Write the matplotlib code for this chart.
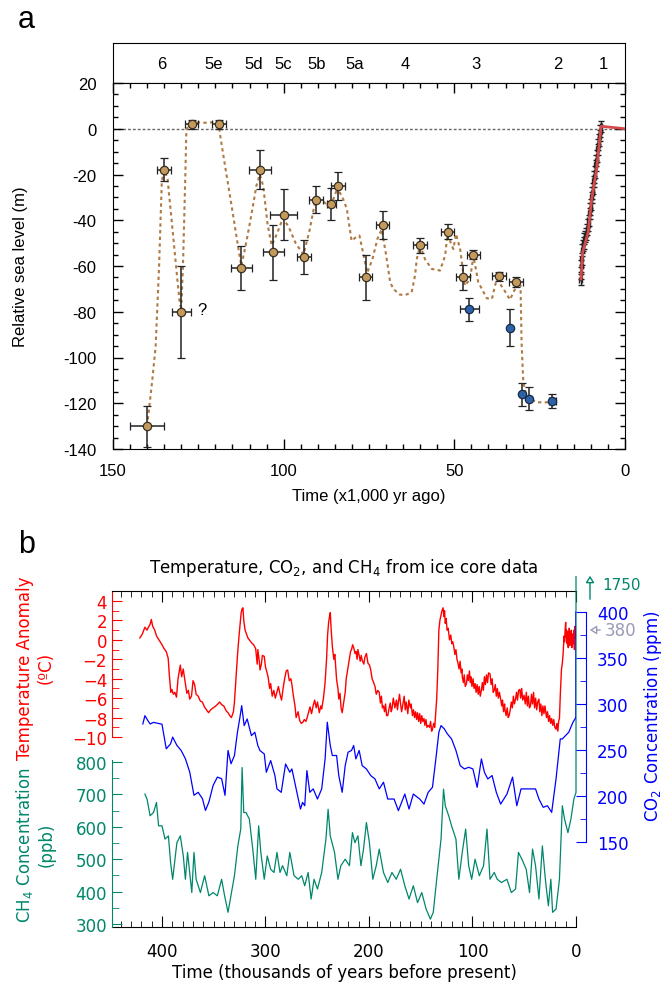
import matplotlib
matplotlib.use('Agg')
import matplotlib.pyplot as plt
from matplotlib.ticker import MultipleLocator, FixedLocator, FuncFormatter
from matplotlib.transforms import Bbox, TransformedBbox

plt.rcParams['axes.unicode_minus'] = False

# ---------------------------------------------------------------------
# Panel a data: marine isotope stages and sea level
stage_names = ['6', '5e', '5d', '5c', '5b', '5a', '4', '3', '2', '1']
stage_ages = [135.8, 120.4, 108.9, 100.0, 90.2, 79.1, 64.5, 43.6, 19.8, 6.4]

terrace_age = [140, 135, 130, 127, 119, 112.4, 107, 103, 100, 94, 90.5, 86, 84, 76, 71,
               60, 52, 47.4, 44.4, 37, 32]
terrace_level = [-130, -18, -80, 2, 2, -61, -18, -54, -37.5, -56, -31, -33, -25, -65, -42,
                 -51, -45, -65, -55, -64.5, -67]
terrace_age_err = [5, 2, 2.8, 1.8, 2, 3, 3.2, 3, 4, 2, 2, 1.2, 2, 2, 2, 2, 2, 2, 2, 2, 2]
terrace_level_err = [9, 5, 20, 2, 2, 9.7, 8.5, 12, 11, 7.5, 6, 7, 6, 10, 6, 3.3, 3.2, 5.4, 2, 2, 2]

shelf_age = [45.6, 33.6, 30.2, 28.2, 21.3]
shelf_level = [-79, -87, -116, -118, -119]
shelf_age_err = [2.8, 0, 0, 0, 1.1]
shelf_level_err = [5, 8, 5, 5, 3]

curve_age = [140, 138.5, 137.5, 136.5, 135.7, 135, 134, 132.5, 131.2, 130.4, 130, 129.5, 128.8,
             128.5, 127, 125, 123, 121, 119, 118.7, 117.2, 116.2, 114.8, 113.3, 112.4, 111,
             109.5, 108, 107, 106, 104.7, 103.5, 102, 100.2, 98.5, 96.5, 94.2, 92.5, 90.8, 89,
             87.5, 86, 84.5, 83.5, 82.5, 81.5, 80.1, 78.5, 77.8, 76.2, 75.5, 74, 72.5, 71.3, 70,
             68.8, 67.9, 66, 64.4, 62.5, 61.5, 61, 60, 58.6, 56.6, 54.2, 52.7, 52, 51, 50.3,
             49.5, 48.3, 46.9, 45.4, 44.4, 43, 40.5, 39, 37.6, 35.6, 33.7, 32.2, 31.6, 30.6,
             30.3, 29.8, 28.8, 25.9, 21.3]
curve_level = [-130, -110, -95, -60, -23, -18, -22, -45, -65, -77, -78, -60, -20,
               0, 2, 2.8, 2.6, 2.8, 2, -2, -16, -25, -38, -52, -60, -50,
               -38, -25, -20, -25, -42, -51, -46, -39, -43, -50, -55, -45, -32, -31,
               -33, -33, -27, -28, -31, -35, -49, -47, -46.7, -58, -63, -57, -48, -44, -55,
               -67, -70, -72.5, -72.7, -71.5, -64, -57, -51, -57, -61.3, -62, -55.5, -46, -50, -52.6,
               -46, -52.6, -68.6, -65.7, -55.5, -67, -74.1, -74.4, -65.7, -70, -74.7, -70, -67, -68.6,
               -93.4, -110.8, -117.4, -119.6, -119.6]

coral_age = [13.0, 12.9, 12.8, 12.7, 12.5, 12.3, 12.1, 11.9, 11.6, 11.3, 11.0, 10.8, 10.6,
             10.4, 10.2, 10.0, 9.8, 9.6, 9.4, 9.2, 9.0, 8.8, 8.6, 8.4, 8.2, 8.0, 7.8, 7.6,
             7.4, 7.2, 7.0]
coral_level = [-66, -63, -60, -57, -53, -51, -50, -48, -47, -46, -44, -42, -40,
               -37, -35, -33, -30, -28, -26, -23, -21, -19, -16, -14, -12, -9, -7, -5,
               -3, -1, 1]

holocene_age = [12.9, 12.4, 10.8, 9.75, 8.3, 7.0, 0.0]
holocene_level = [-65.7, -54, -45.3, -30.7, -17.6, 1.1, 0.0]

# ---------------------------------------------------------------------
# Panel b data: Vostok ice core records
temp_age = [421.4, 419, 416.5, 414.5, 413.6, 411.5, 410.3, 409, 407, 405.3, 403, 400, 398, 395.9,
            394, 393, 391.5, 390.5, 389, 387.6, 386, 384.5, 382.3, 381, 379.5, 377.4, 376, 374.5,
            373.2, 371.5, 370, 368.5, 367, 365, 363, 361, 359, 357, 355, 353, 350.6, 348, 346,
            344.4, 342, 340.3, 338, 336.2, 334.5, 332.9, 331, 330, 328.5, 327, 325.5, 324.7,
            323.5, 322.6, 321.8, 321, 319.7, 318, 317, 315.6, 313.5, 311.5, 309.5, 308, 307.4,
            306, 305.3, 304, 303, 301.2, 300, 299.2, 297.5, 296, 295, 293.5, 292, 290.5, 289,
            287.5, 286, 284.5, 283, 281.5, 280, 278.6, 277, 275.5, 274.5, 273, 271.5, 270.4,
            268.5, 267, 265.5, 264, 262.5, 261, 260, 258.5, 257, 255.5, 254, 252.5, 251, 249.8,
            248, 246.5, 245.7, 244, 242.5, 241, 240, 239, 238, 237.4, 236.5, 235.4, 234, 233,
            231.3, 230, 229.2, 228, 227, 225.9, 224.5, 223, 222, 220.5, 219, 217.8, 216.9,
            215.8, 214.8, 213.5, 212.5, 211.5, 210.7, 209.5, 208.5, 207.5, 206.6, 205, 204,
            202.5, 201, 199.5, 198.3, 197, 195.5, 194.2, 193, 191.5, 190.1, 189, 188, 187, 186,
            185, 184, 183, 181.9, 180.5, 179.5, 178.5, 177.8, 176.5, 175, 173.5, 172.5, 171.6,
            170.5, 169.5, 168.5, 167.5, 166, 165, 164, 162.5, 161.5, 160, 159.3, 158, 157, 156,
            155, 154, 153.1, 152, 151, 150, 149, 148, 146.9, 146, 145, 144, 142.8, 141.5, 140.5,
            139.5, 138.7, 137.5, 136.5, 135.5, 134.6, 133.5, 132.5, 131.5, 130.5, 129.5, 128.4,
            127.6, 127, 126.3, 125.5, 124.5, 123.5, 122.2, 121, 120, 119, 118.1, 117, 116, 115,
            114, 113, 112, 111, 110, 109.9, 108.8, 108, 107, 105.8, 105, 104, 103, 102, 101.6,
            100.5, 99.5, 98.5, 97.5, 96.5, 95.5, 94.5, 93.5, 92.5, 91.4, 90.5, 89.5, 88.5, 87.5,
            86.5, 85.5, 84.5, 83.1, 82, 81, 80, 79, 78, 77, 76, 75, 74, 72.8, 71.8, 71, 70, 69,
            68.7, 67.5, 66.5, 65.5, 64.6, 63.5, 62.5, 61.5, 60.5, 59.5, 58.4, 57.5, 56.5, 55.5,
            54.3, 53.5, 52.5, 51.5, 50.2, 49, 48, 47, 46, 45, 44, 43, 42, 41, 40, 39, 38, 37,
            35.8, 35, 34, 33, 32, 31, 30, 29.6, 28.5, 27.5, 26.5, 25.5, 24.5, 23.5, 22.5, 21.5,
            20.5, 19.3, 18.5, 17.5, 16.8, 16, 15.5, 15, 14.5, 14, 13.2, 12.5, 12, 11.5, 11, 10.5,
            10, 9.5, 9.1, 8.5, 8, 7.5, 7, 6.5, 6, 5.5, 5, 4.5, 4, 3.5, 2.9, 2.5, 2, 1.5, 1, 0.5, 0]
temp_anom = [0.2, 0.6, 1.3, 1.0, 1.2, 1.6, 2.1, 1.4, 1.0, 0.4, 0.0, -0.5, -0.9, -1.2,
             -1.9, -3.5, -5.4, -5.1, -5.6, -5.4, -5.9, -4.0, -2.6, -3.8, -3.0, -4.5, -5.5, -5.2,
             -6.1, -5.8, -4.2, -4.6, -5.6, -5.8, -6.3, -6.4, -6.9, -7.2, -7.5, -7.2, -7.0, -6.8, -6.6,
             -6.4, -6.7, -6.8, -7.3, -7.5, -7.8, -8.0, -7.4, -6.4, -4.0, -1.5, 0.5, 1.4,
             2.8, 3.2, 3.3, 2.0, 1.0, 0.5, 0.2, 0.0, -0.3, -0.5, -0.9, -2.5, -1.0,
             -2.2, -3.1, -2.5, -1.6, -1.7, -2.8, -3.1, -3.8, -5.0, -4.5, -5.8, -5.2, -6.0, -5.4,
             -4.8, -5.6, -6.2, -5.0, -4.0, -3.2, -3.1, -4.2, -4.0, -4.6, -5.8, -6.8, -8.0,
             -7.4, -8.3, -8.6, -8.5, -8.2, -8.4, -8.1, -7.5, -6.9, -7.6, -6.8, -6.2, -7.0, -6.4,
             -7.5, -6.8, -7.1, -6.0, -4.5, -2.0, 0.5, 1.8, 2.5, 2.8, 1.0, -0.7, -2.0, -1.5,
             -4.1, -5.0, -6.1, -5.5, -7.0, -7.5, -6.5, -5.4, -4.0, -3.0, -2.0, -1.2, -1.0,
             -0.5, -0.8, -1.4, -1.2, -2.0, -1.0, -1.6, -2.2, -1.6, -2.1, -2.5, -1.8,
             -1.4, -2.4, -2.6, -3.1, -4.0, -4.4, -4.8, -5.6, -5.2, -5.4, -6.5, -5.8, -7.0, -6.8,
             -7.4, -6.6, -7.8, -7.8, -7.0, -6.5, -7.4, -7.1, -6.0, -7.0, -6.2, -7.2, -6.4,
             -5.6, -6.6, -7.4, -6.8, -5.8, -7.2, -6.4, -7.6, -6.2, -7.0, -6.6, -7.8, -7.2, -8.0,
             -7.4, -8.2, -7.5, -8.4, -7.6, -8.6, -7.8, -8.4, -8.1, -8.8, -8.2, -9.0, -8.8, -9.0, -8.4,
             -9.4, -9.2, -8.6, -9.0, -7.5, -6.1, -3.0, 1.0, 2.0, 2.5, 3.0, 3.3,
             2.4, 3.0, 1.7, 2.2, 1.0, 1.2, 0.0, 0.5, -0.4, -0.2, -0.7, -1.5, -1.0, -2.0,
             -2.4, -3.0, -2.2, -3.4, -3.0, -3.8, -4.4, -3.6, -4.8, -4.5, -3.6, -4.2, -3.2, -4.4, -3.8,
             -4.8, -4.0, -5.0, -4.5, -5.4, -4.6, -5.6, -4.8, -5.8, -5.2, -4.4, -5.2, -3.8, -4.6,
             -3.6, -4.4, -3.4, -3.5, -4.6, -4.0, -5.4, -5.2, -4.6, -5.8, -5.0, -6.0, -5.4, -6.1, -6.8, -6.2, -7.4, -6.6,
             -7.1, -7.8, -7.0, -8.0, -7.8, -7.2, -6.4, -7.0, -5.8, -6.6, -6.1, -5.4, -6.2, -5.2,
             -5.1, -6.0, -5.0, -6.2, -5.7, -6.6, -5.4, -6.8, -5.8, -7.0, -6.8, -5.6, -6.6, -5.4, -7.0, -6.0, -7.2, -6.4,
             -6.1, -7.4, -6.6, -7.8, -6.8, -7.6, -6.8, -7.1, -8.0, -7.4, -8.4, -7.8, -8.6, -8.1, -8.8, -8.2,
             -9.0, -9.2, -8.6, -9.4, -8.4, -8.1, -6.5, -5.2, -4.0, -3.0, -2.4, -1.5, -0.6, 0.4, -0.2, 1.0,
             1.8, 0.2, 1.0, -0.4, 0.8, -0.8, 0.0, 1.2, -0.6, 0.8, -0.2, 1.0, -0.8, 0.6, 0.35, -0.4, 1.0, -1.0, 1.4, 0.2, 0.8]

co2_age = [418.5, 416.5, 413.6, 411.5, 408.2, 400, 395.9, 391.7, 389.7, 385.6, 381.5, 377.4, 373.2,
           369.1, 365, 360.9, 358, 354.7, 350.6, 346.5, 342.4, 339.1, 336.2, 333.3, 330, 327.1,
           324.7, 323, 320.6, 317.7, 313.6, 310.3, 307.4, 305.3, 301.2, 299.2, 295, 290.9, 288.9,
           284.8, 280.6, 276.5, 274.5, 272.4, 268.3, 266.2, 264.2, 262.1, 260, 257.2, 253.9, 249.8,
           245.7, 242.4, 240.3, 237.4, 235.4, 231.3, 229.2, 225.9, 223, 220.2, 216.9, 214.8, 212.7,
           209.5, 206.6, 202.5, 198.3, 194.2, 190.1, 186, 181.9, 175.8, 171.6, 165.4, 161.3, 157.2,
           151, 146.9, 142.8, 138.7, 135.4, 132.5, 130.4, 127.2, 124.3, 120.2, 116, 111.9, 107.8,
           103.7, 99.6, 95.5, 91.4, 88.5, 85.2, 81.1, 77, 72.8, 66.7, 61.3, 57.2, 53.1, 48.1, 44,
           39.1, 35.8, 31.7, 27.6, 23.5, 19.3, 15.2, 13.2, 7, 2.9, 0, 0]
co2_ppm = [278.3, 287.3, 281.9, 278.3, 280, 278, 251.3, 256.7, 264, 255, 249.5, 240.5, 226,
           200.8, 204, 197, 184.3, 193.4, 211.5, 220.5, 218.8, 200.7, 249.5, 235, 244, 269.3,
           285.5, 298.2, 276.5, 283.7, 265.6, 269.3, 254.8, 249.3, 245.7, 225.8, 238.5, 222.2, 207.7,
           204, 234.8, 225.8, 229.4, 218.5, 196.7, 185.8, 193, 189.4, 227.6, 204, 207.7, 196.7,
           207.7, 240.3, 280.2, 254.8, 244, 244, 222.2, 204, 233, 247.6, 249.5, 254.8, 240.3,
           249.5, 233, 229.4, 222.2, 218.5, 207.7, 215, 196.7, 196.7, 184.1, 202.1, 185.8, 202.1,
           196.7, 191.2, 204, 209.4, 240.3, 269.3, 276.5, 272.9, 267.5, 262, 249.5, 233, 229.4,
           231.2, 229.4, 209.4, 240.3, 225.8, 218.5, 222.2, 204, 191.2, 202.1, 220.5, 189.4, 207.7, 207.7, 207.7,
           207.7, 196.7, 187.7, 189.4, 182.2, 218.5, 262, 262, 269.3, 280.2, 285.6, 400]

ch4_age = [416.5, 414.4, 411.5, 408.2, 405.3, 403.3, 400, 397.1, 393.8, 391.7, 389.7, 385.6, 382.3,
           379.4, 377.4, 375.3, 371.2, 369.1, 367, 362.9, 358.8, 354.7, 350.6, 346.5, 342.4, 339.5,
           336.2, 332.9, 330, 326.7, 323.9, 322.6, 321, 318.9, 315.6, 312.3, 309.4, 306.6, 304.5,
           301.2, 298.3, 295, 291.8, 288.9, 286, 283.5, 279.4, 276.5, 272.4, 268.3, 265, 262.1,
           258.8, 255.9, 253.1, 249.8, 245.7, 241.6, 239.5, 237.4, 233.3, 230, 227.2, 223, 218.9,
           216, 213.6, 210.7, 207.8, 205.3, 202.5, 199.6, 196.3, 193, 190.1, 186, 181.9, 177.8,
           173.7, 169.5, 165.4, 161.3, 157.2, 153.1, 149, 144.8, 140.7, 137.9, 134.6, 130.4, 128,
           126.3, 123, 120.2, 116, 113.2, 109.9, 106.6, 103.7, 100.8, 97.5, 93.4, 89.3, 86, 83.1,
           79, 76.1, 72, 66.7, 62.5, 58.4, 55.6, 52.3, 48.1, 44.9, 42, 39.1, 35.8, 32.5, 29.6, 26.7,
           24.3, 22.6, 19.3, 16, 13.2, 11.1, 7.8, 4.9, 2.1, 0.0, 0.0]
ch4_ppb = [701, 685, 634, 644, 675, 603, 603, 562, 572, 490, 438, 551, 572,
           510, 438, 521, 397, 521, 438, 397, 449, 387, 397, 387, 438, 387,
           336, 397, 449, 541, 593, 783, 644, 644, 624, 531, 438, 603, 521,
           438, 510, 469, 459, 521, 459, 480, 449, 521, 449, 438, 449, 418,
           459, 377, 438, 408, 459, 562, 654, 572, 521, 438, 480, 500, 480,
           582, 551, 572, 480, 531, 613, 551, 438, 480, 531, 459, 428, 459,
           438, 469, 418, 377, 418, 366, 397, 346, 315, 336, 438, 562, 716,
           665, 634, 603, 562, 438, 521, 593, 480, 438, 500, 449, 480, 593, 438,
           459, 438, 428, 438, 397, 408, 521, 500, 469, 397, 531, 480, 377, 541, 438, 356,
           438, 336, 346, 438, 665, 624, 582, 624, 685, 706, 1750]

# ---------------------------------------------------------------------
tan = '#c49a5c'
navy = '#2c62a8'
brown = '#b07a45'
red = '#ff0000'
blue = '#0000ff'
green = '#00876b'

fig = plt.figure(figsize=(6.64, 9.87), dpi=100)
W, H = 664.0, 987.0


def frame(x0, y0, x1, y1):
    # pixel box (top-left origin) to figure fraction rectangle
    return [x0 / W, 1 - y1 / H, (x1 - x0) / W, (y1 - y0) / H]


def px(x, y):
    # pixel point (top-left origin) to figure fraction
    return x / W, 1 - y / H


# ---------------------------------------------------------------------
# Panel a
fa = 'Liberation Sans'
fig.text(*px(18, 20), 'a', fontsize=22, family=fa, ha='left', va='center')

ax_stage = fig.add_axes(frame(113, 44, 625, 84))
ax_stage.set_xlim(150, 0)
ax_stage.set_ylim(0, 1)
ax_stage.set_xticks([])
ax_stage.set_yticks([])
for name, age in zip(stage_names, stage_ages):
    ax_stage.text(age, 0.48, name, ha='center', va='center', fontsize=12, family=fa)

ax = fig.add_axes(frame(113, 84, 625, 450))
ax.set_xlim(150, 0)
ax.set_ylim(-140, 20)
ax.axhline(0, color='#666666', ls=(0, (2, 1.5)), lw=1, zorder=1)
ax.plot(curve_age, curve_level, color=brown, ls=(0, (1.6, 1.6)), lw=1.5, zorder=2)

ax.errorbar(coral_age, coral_level, xerr=0.4, yerr=2.5, fmt='none', ecolor='#222222',
            elinewidth=1, capsize=2.5, zorder=3)
ax.plot(holocene_age, holocene_level, color='#d44a4a', lw=2, zorder=4)

ax.errorbar(terrace_age, terrace_level, xerr=terrace_age_err, yerr=terrace_level_err,
            fmt='o', ms=6, mfc=tan, mec='#3a3020', mew=0.9, ecolor='#222222',
            elinewidth=1.1, capsize=3, zorder=5)
ax.errorbar(shelf_age, shelf_level, xerr=shelf_age_err, yerr=shelf_level_err,
            fmt='o', ms=6, mfc=navy, mec='#1a2a40', mew=0.9, ecolor='#222222',
            elinewidth=1.1, capsize=3, zorder=5)
ax.text(124, -79, '?', fontsize=12, family=fa, ha='center', va='center')

ax.xaxis.set_major_locator(MultipleLocator(50))
ax.xaxis.set_minor_locator(MultipleLocator(5))
ax.yaxis.set_major_locator(MultipleLocator(20))
ax.yaxis.set_minor_locator(MultipleLocator(5))
ax.tick_params(which='both', direction='in', top=True, right=True, width=1)
ax.tick_params(which='major', length=7, labelsize=12)
ax.tick_params(axis='x', which='major', pad=10)
ax.tick_params(axis='y', which='major', pad=12)
ax.tick_params(which='minor', length=3.5)
for lab in ax.get_xticklabels() + ax.get_yticklabels():
    lab.set_family(fa)
fig.text(*px(369, 497), 'Time (x1,000 yr ago)', fontsize=12, family=fa,
         ha='center', va='center')
fig.text(*px(21, 267), 'Relative sea level (m)', fontsize=12, family=fa,
         ha='center', va='center', rotation=90)

# ---------------------------------------------------------------------
# Panel b
fb = 'DejaVu Sans'
fig.text(*px(18, 545), 'b', fontsize=22, family=fa, ha='left', va='center')

box = frame(112, 592, 576, 928)
ax_t = fig.add_axes(box)
ax_m = fig.add_axes(box, facecolor='none')
ax_c = fig.add_axes(box, facecolor='none')

for a in (ax_t, ax_m, ax_c):
    a.set_xlim(448.3, 0)

ax_t.set_ylim(-29.56, 5.03)
ax_m.set_ylim(290.7, 1327.8)
ax_c.set_ylim(57.6, 422.8)

# the methane line runs a little past the top of the box towards its arrow
ch4_line, = ax_m.plot(ch4_age, ch4_ppb, color=green, lw=0.9, zorder=1)
ch4_line.set_clip_box(TransformedBbox(Bbox([list(px(112, 928)), list(px(578, 577))]),
                                      fig.transFigure))
ax_c.plot(co2_age, co2_ppm, color=blue, lw=0.9)
ax_t.plot(temp_age, temp_anom, color=red, lw=1.0)

long_minus = FuncFormatter(lambda v, pos: f'{v:.0f}'.replace('-', '\u2212'))

# temperature axis: left, red
ax_t.spines['right'].set_visible(False)
ax_t.spines['left'].set_color(red)
ax_t.spines['left'].set_bounds(-10, 5.03)
ax_t.set_yticks(range(-10, 5, 2))
ax_t.yaxis.set_major_formatter(long_minus)
ax_t.yaxis.set_minor_locator(FixedLocator(range(-9, 5, 2)))
ax_t.tick_params(axis='y', which='both', direction='in', colors=red, labelsize=12)
ax_t.tick_params(axis='y', which='major', length=7)
ax_t.tick_params(axis='y', which='minor', length=5)
ax_t.xaxis.set_major_locator(MultipleLocator(100))
ax_t.xaxis.set_minor_locator(MultipleLocator(10))
ax_t.tick_params(axis='x', which='both', direction='in', top=True, labelsize=12, pad=11)
ax_t.tick_params(axis='x', which='major', length=8)
ax_t.tick_params(axis='x', which='minor', length=4)
fig.text(*px(344, 973), 'Time (thousands of years before present)', fontsize=12,
         family=fb, ha='center', va='center')
fig.text(*px(344, 568), 'Temperature, CO$_2$, and CH$_4$ from ice core data', fontsize=12,
         family=fb, ha='center', va='center')

# methane axis: left, green
for s in ('top', 'bottom', 'right'):
    ax_m.spines[s].set_visible(False)
ax_m.spines['left'].set_color(green)
ax_m.spines['left'].set_bounds(290.7, 806)
ax_m.set_yticks(range(300, 801, 100))
ax_m.yaxis.set_minor_locator(FixedLocator(range(350, 800, 100)))
ax_m.tick_params(axis='y', which='both', direction='in', colors=green, labelsize=12)
ax_m.tick_params(axis='y', which='major', length=7)
ax_m.tick_params(axis='y', which='minor', length=5)
ax_m.set_xticks([])

# carbon dioxide axis: right, blue, set off from the box
for s in ('top', 'bottom', 'left'):
    ax_c.spines[s].set_visible(False)
ax_c.spines['right'].set_color(blue)
ax_c.spines['right'].set_position(('outward', 7.2))
ax_c.spines['right'].set_bounds(150, 400)
ax_c.yaxis.tick_right()
ax_c.set_yticks(range(150, 401, 50))
ax_c.yaxis.set_minor_locator(FixedLocator(range(175, 400, 50)))
ax_c.tick_params(axis='y', which='both', direction='in', colors=blue, labelsize=12, pad=8)
ax_c.tick_params(axis='y', which='major', length=7.2)
ax_c.tick_params(axis='y', which='minor', length=4)
ax_c.set_xticks([])

fig.text(*px(35, 668), 'Temperature Anomaly\n(ºC)', color=red, rotation=90,
         ha='center', va='center', fontsize=12, family=fb, multialignment='center',
         linespacing=1.2)
fig.text(*px(35, 845), 'CH$_4$ Concentration\n(ppb)', color=green, rotation=90,
         ha='center', va='center', fontsize=12, family=fb, multialignment='center',
         linespacing=1.2)
fig.text(*px(653, 716), 'CO$_2$ Concentration (ppm)', color=blue, rotation=90,
         ha='center', va='center', fontsize=12, family=fb)

# present-day markers off the scales
fig.add_artist(matplotlib.patches.FancyArrowPatch(
    px(590, 603), px(590, 574), transform=fig.transFigure,
    arrowstyle='-|>,head_length=4,head_width=2.5', color=green, fc='white', lw=1))
fig.text(*px(602, 585), '1750', color=green, fontsize=11, family=fb,
         ha='left', va='center')
fig.add_artist(matplotlib.patches.FancyArrowPatch(
    px(603, 631), px(587, 631), transform=fig.transFigure,
    arrowstyle='-|>,head_length=4,head_width=2.5', color='#9a9ab8', fc='white', lw=1))
fig.text(*px(605, 631), '380', color='#9a9ab8', fontsize=12, family=fb,
         ha='left', va='center')

fig.savefig('out.png', dpi=100)
